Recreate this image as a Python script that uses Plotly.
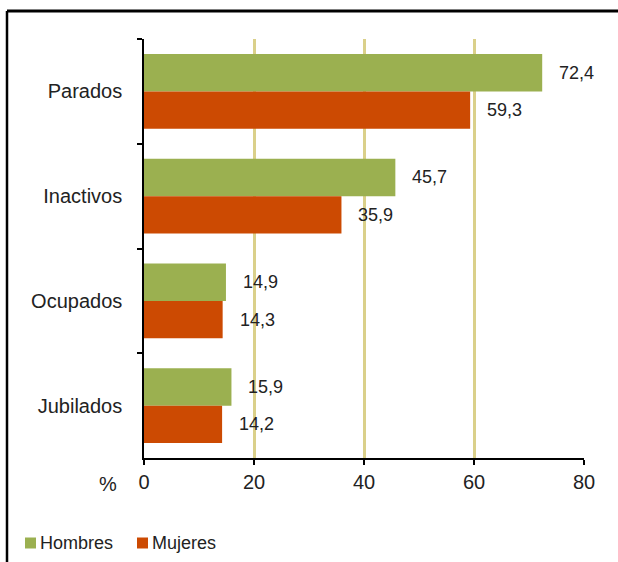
import plotly.graph_objects as go

# Data: share (%) by employment situation and sex
categories = ["Parados", "Inactivos", "Ocupados", "Jubilados"]
series_names = ["Hombres", "Mujeres"]
hombres = [72.4, 45.7, 14.9, 15.9]
mujeres = [59.3, 35.9, 14.3, 14.2]
x_ticks = [0, 20, 40, 60, 80]

GREEN = "#9bb050"
RED = "#cc4a02"
GRID = "#dad08a"
FONT = "Liberation Sans, Arial, sans-serif"
TXT = "#222222"

W, H = 618, 562
ML, MR, MT, MB = 144, 34, 39, 104
PW, PH = W - ML - MR, H - MT - MB
BARGAP = 0.286


def fmt(v):
    return f"{v:.1f}".replace(".", ",")


def px_to_paper_x(px):
    return (px - ML) / PW


def px_to_paper_y(py):
    return (H - MB - py) / PH


fig = go.Figure()
fig.add_trace(go.Bar(name=series_names[0], x=hombres, y=categories, orientation="h",
                     marker=dict(color=GREEN, line=dict(width=0)), showlegend=False))
fig.add_trace(go.Bar(name=series_names[1], x=mujeres, y=categories, orientation="h",
                     marker=dict(color=RED, line=dict(width=0)), showlegend=False))

# value labels next to each bar end
band_px = PH / len(categories)
bar_px = band_px * (1 - BARGAP) / 2
annotations = []
for vals, shift in ((hombres, bar_px / 2), (mujeres, -bar_px / 2)):
    for c, v in zip(categories, vals):
        annotations.append(dict(x=v, y=c, xref="x", yref="y", text=fmt(v),
                                showarrow=False, xanchor="left", xshift=15,
                                yshift=shift,
                                font=dict(family=FONT, size=18, color=TXT)))

# "%" unit marker on the value axis
annotations.append(dict(x=px_to_paper_x(108), y=px_to_paper_y(484), xref="paper",
                        yref="paper", text="%", showarrow=False,
                        xanchor="center", yanchor="middle",
                        font=dict(family=FONT, size=20, color=TXT)))

# outer frame (top and left edges)
shapes = [
    dict(type="line", xref="paper", yref="paper",
         x0=px_to_paper_x(7), x1=px_to_paper_x(W + 5),
         y0=px_to_paper_y(11), y1=px_to_paper_y(11),
         line=dict(color="black", width=3)),
    dict(type="line", xref="paper", yref="paper",
         x0=px_to_paper_x(7), x1=px_to_paper_x(7),
         y0=px_to_paper_y(11), y1=px_to_paper_y(H + 5),
         line=dict(color="black", width=2.5)),
]

# legend row: small colour square followed by the series name
legend_y = 543
for name, color, sq_x in ((series_names[0], GREEN, 25), (series_names[1], RED, 137)):
    shapes.append(dict(type="rect", xref="paper", yref="paper",
                       x0=px_to_paper_x(sq_x), x1=px_to_paper_x(sq_x + 11),
                       y0=px_to_paper_y(legend_y + 5.5), y1=px_to_paper_y(legend_y - 5.5),
                       fillcolor=color, line=dict(width=0)))
    annotations.append(dict(x=px_to_paper_x(sq_x + 13), y=px_to_paper_y(legend_y),
                            xref="paper", yref="paper", text=name, showarrow=False,
                            xanchor="left", yanchor="middle",
                            font=dict(family=FONT, size=18, color=TXT)))

fig.update_layout(
    width=W, height=H,
    margin=dict(l=ML, r=MR, t=MT, b=MB, autoexpand=False),
    paper_bgcolor="white", plot_bgcolor="white",
    barmode="group", bargap=BARGAP, bargroupgap=0,
    font=dict(family=FONT, color=TXT),
    showlegend=False,
    annotations=annotations,
    shapes=shapes,
)

fig.update_xaxes(range=[0, 80], tickvals=x_ticks, ticktext=[str(t) for t in x_ticks],
                 showgrid=True, gridcolor=GRID, gridwidth=3,
                 zeroline=False, showline=True, linecolor="black", linewidth=1.5,
                 ticks="outside", ticklen=5, tickcolor="black", tickwidth=1.5,
                 tickfont=dict(family=FONT, size=20, color=TXT),
                 ticklabelstandoff=0, automargin=False, fixedrange=True)
fig.update_yaxes(categoryorder="array", categoryarray=categories, autorange="reversed",
                 showgrid=False, zeroline=False, showline=True, linecolor="black",
                 linewidth=1.5, ticks="outside", ticklen=5, tickcolor="black",
                 tickwidth=1.5, tickson="boundaries",
                 tickfont=dict(family=FONT, size=20, color=TXT),
                 ticklabelstandoff=16, automargin=False, fixedrange=True)

fig.write_html("out.html", config={"displayModeBar": False})
